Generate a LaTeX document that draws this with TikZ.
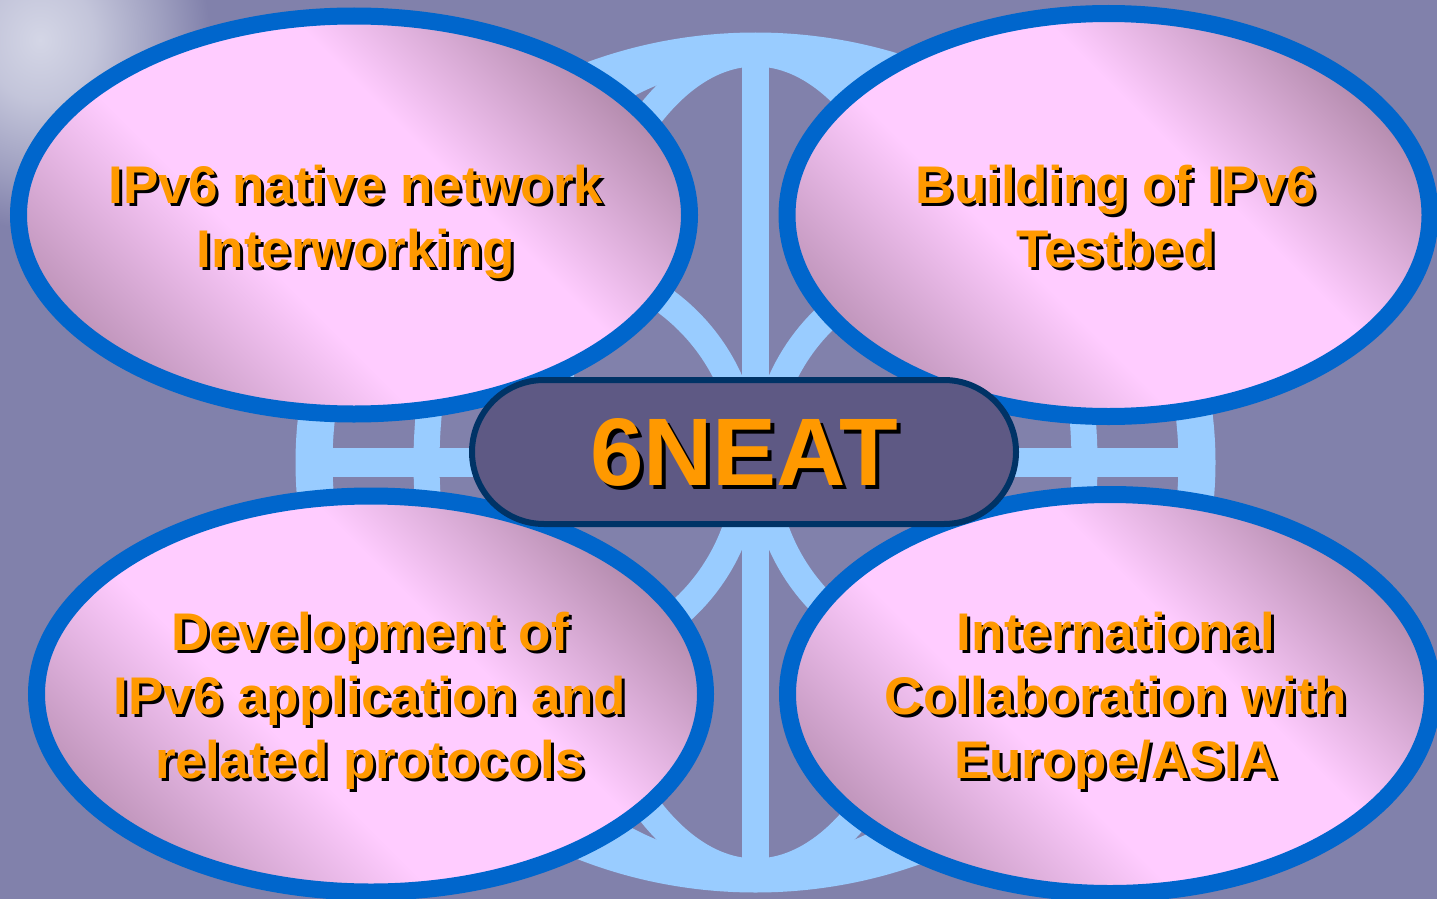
\documentclass[tikz,border=0pt]{standalone}
\usepackage{fontspec}
\setmainfont{Liberation Sans}
\usetikzlibrary{shapes.geometric}
\definecolor{bgcol}{RGB}{129,129,171}
\definecolor{glowcol}{RGB}{212,214,230}
\definecolor{globeblue}{RGB}{153,204,255}
\definecolor{ringblue}{RGB}{0,102,204}
\definecolor{orangeT}{RGB}{255,153,0}
\definecolor{pinkL}{RGB}{255,204,255}
\definecolor{mauveA}{RGB}{174,134,168}
\definecolor{mauveB}{RGB}{164,126,156}
\definecolor{corefill}{RGB}{94,89,132}
\definecolor{coreline}{RGB}{0,51,102}
\pgfdeclareverticalshading{bubbleshade}{100bp}{color(0bp)=(mauveA); color(20bp)=(mauveA); color(41bp)=(pinkL); color(59bp)=(pinkL); color(79bp)=(mauveB); color(100bp)=(mauveB)}
\pgfdeclareradialshading{glowshade}{\pgfpoint{0bp}{0bp}}{color(0bp)=(glowcol); color(8bp)=(glowcol!80!bgcol); color(18bp)=(glowcol!35!bgcol); color(25bp)=(bgcol); color(50bp)=(bgcol)}
\newcommand\dropsh[2]{\leavevmode\rlap{\kern#1\raisebox{-#1}[0pt][0pt]{\color{black}#2}}#2}
\newcommand\tline[1]{\rule[-12pt]{0pt}{52pt}\dropsh{3pt}{#1}}
\begin{document}
\begin{tikzpicture}[x=1pt,y=-1pt,
  bubble/.style={ellipse, draw=ringblue, line width=17pt, shading=bubbleshade, shading angle=-45, inner sep=0pt},
  lbl/.style={align=center, text=orangeT, font=\fontsize{53}{64}\selectfont\bfseries, inner sep=0pt},
  core/.style={draw=coreline, fill=corefill, line width=6pt, rounded corners=72pt, minimum width=544pt, minimum height=144pt, inner sep=0pt, text=orangeT, font=\fontsize{96}{110}\selectfont\bfseries},
  band/.style={draw=globeblue}]
\useasboundingbox (0,0) rectangle (1437,899);
% background
\fill[bgcol] (0,0) rectangle (1437,899);
\shade[shading=glowshade] (40,40) ellipse [x radius=170pt, y radius=190pt];
% globe
\fill[globeblue, even odd rule] (755.5,462.5) ellipse [x radius=460pt, y radius=430pt] (755.5,462.5) ellipse [x radius=423pt, y radius=400pt];
\fill[globeblue] (742,45) rectangle (769,880);
\fill[globeblue] (300,448) rectangle (1211,477);
\draw[band, line width=26pt] (755.5,462.5) ellipse [x radius=329pt, y radius=410pt];
\draw[band, line width=28pt] (755.5,462.5) ellipse [x radius=200pt, y radius=410pt];
\begin{scope}
  \clip (600,250) rectangle (911,675);
  \draw[band, line width=27pt] (547,462.5) circle [radius=200pt];
  \draw[band, line width=27pt] (964,462.5) circle [radius=200pt];
\end{scope}
% bubbles
\node[bubble, minimum width=671pt, minimum height=398pt] (tl) at (354,215) {};
\node[bubble, minimum width=643pt, minimum height=403pt] (tr) at (1108.5,215) {};
\node[bubble, minimum width=669pt, minimum height=396pt] (bl) at (371,694) {};
\node[bubble, minimum width=645pt, minimum height=399pt] (br) at (1110,694) {};
% labels
\node[lbl] (tlt) at (356,221) {\tline{IPv6 native network}\\\tline{Interworking}};
\node[lbl] (trt) at (1116,221) {\tline{Building of IPv6}\\\tline{Testbed}};
\node[lbl] (blt) at (370,700.5) {\tline{Development of}\\\tline{IPv6 application and}\\\tline{related protocols}};
\node[lbl] (brt) at (1116,700) {\tline{International}\\\tline{Collaboration with}\\\tline{Europe/ASIA}};
% core
\node[core] (core) at (744,452) {\dropsh{4pt}{6NEAT}};
\end{tikzpicture}
\end{document}
